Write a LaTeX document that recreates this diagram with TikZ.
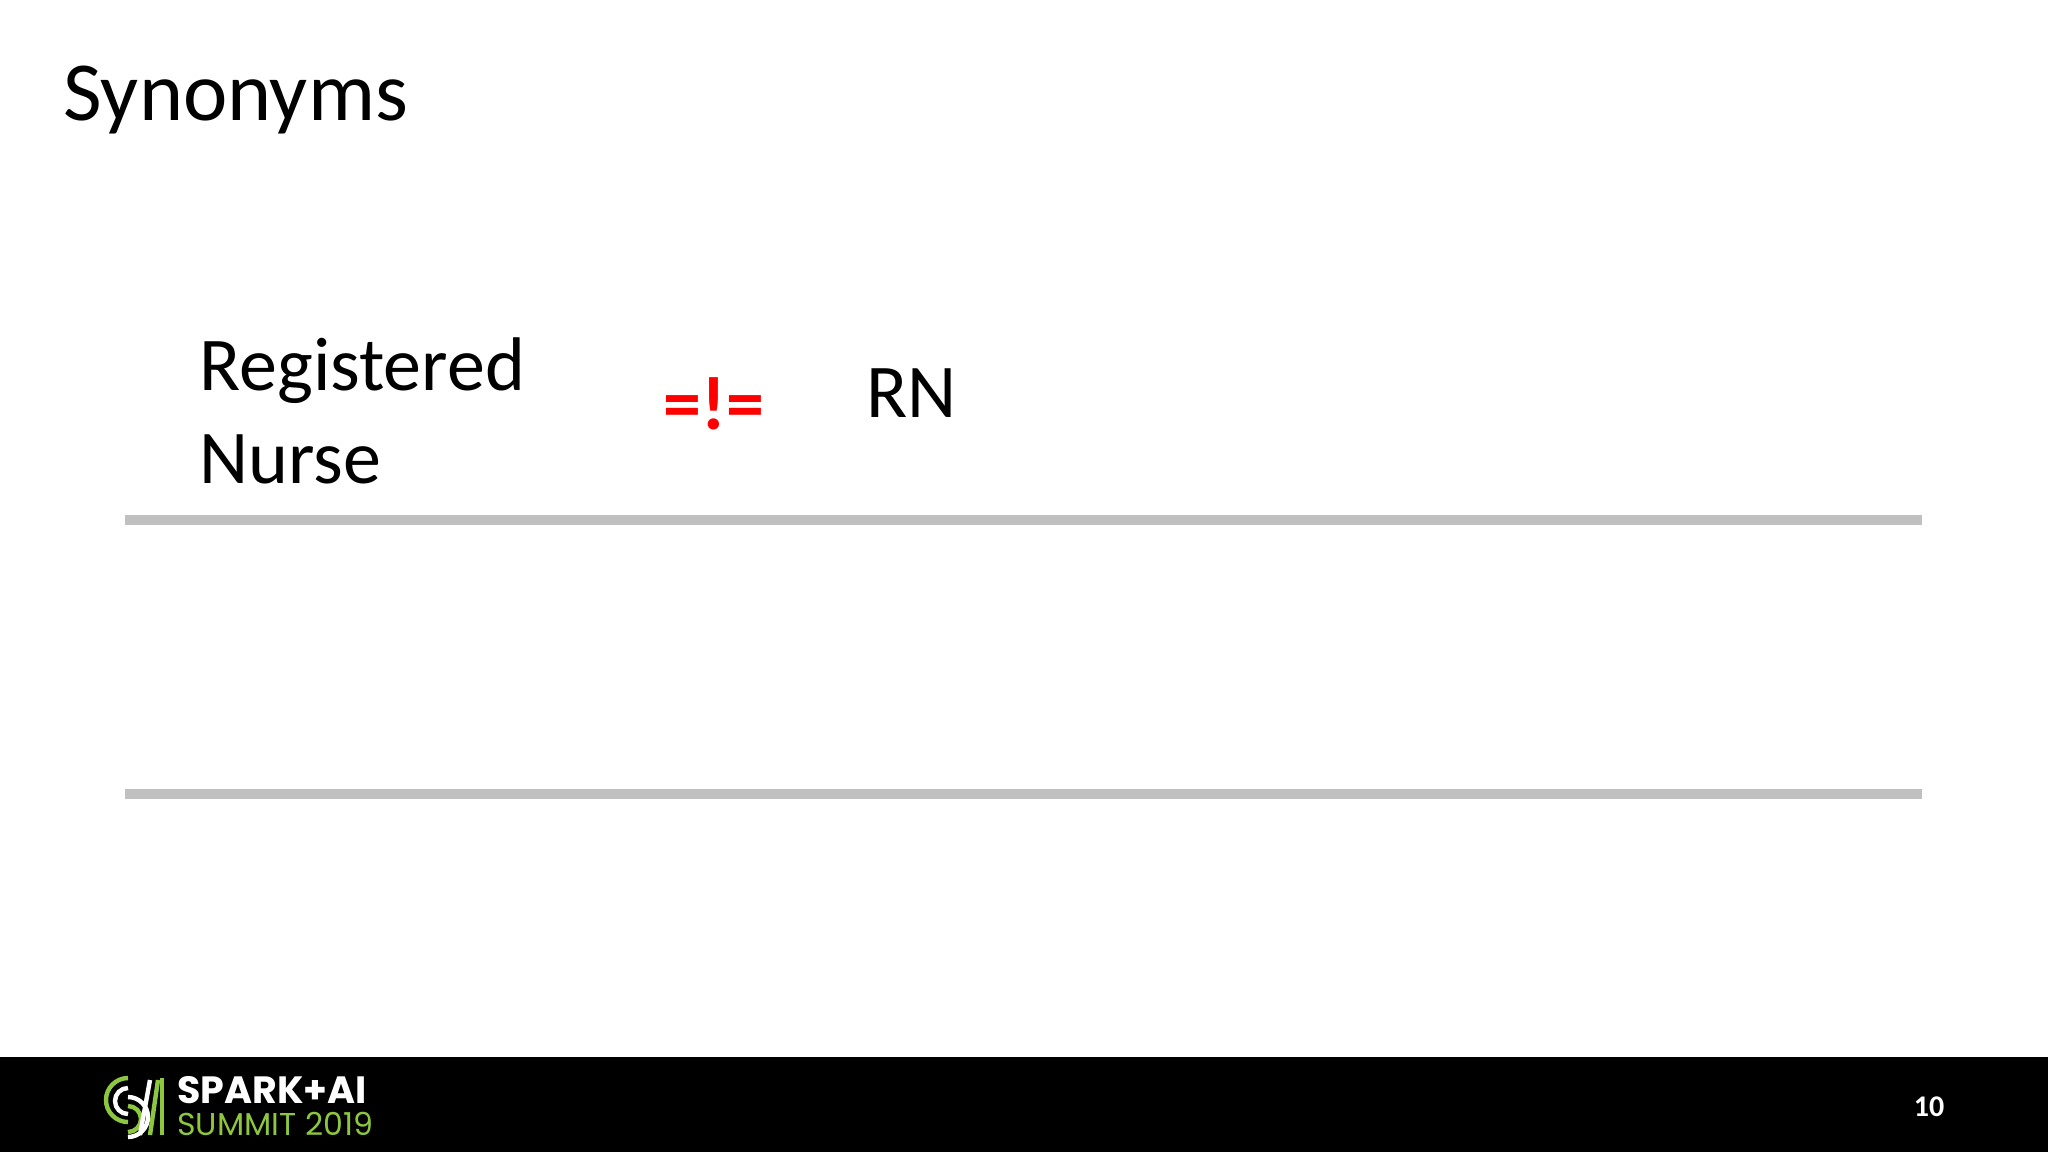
\documentclass[tikz,border=0pt]{standalone}
\usepackage{fontspec}
\setmainfont{Carlito}
\newfontfamily\logofont{Poppins}
\definecolor{sgreen}{HTML}{8DC63F}
\definecolor{rulegray}{HTML}{C0C0C0}
\begin{document}
\begin{tikzpicture}[x=0.5pt,y=-0.5pt,
  txt/.style={anchor=base west,inner sep=0pt,font=\fontsize{38}{46}\selectfont},
  rulel/.style={draw=rulegray,line width=5pt}]
\useasboundingbox (0,0) rectangle (2048,1152);
\fill[white] (0,0) rectangle (2048,1057);
\fill[black] (0,1057) rectangle (2048,1152);
\node[txt,font=\fontsize{42}{50}\selectfont] (title) at (63,120) {Synonyms};
\node[txt] (reg) at (199,390) {Registered};
\node[txt] (nur) at (199,483) {Nurse};
\node[txt,text=red,font=\fontsize{38}{46}\selectfont\bfseries] (neq) at (663,429) {=!=};
\node[txt] (rn) at (866,417) {RN};
\coordinate (l1a) at (125,520); \coordinate (l1b) at (1922,520);
\coordinate (l2a) at (125,794); \coordinate (l2b) at (1922,794);
\draw[rulel] (l1a) -- (l1b);
\draw[rulel] (l2a) -- (l2b);
% logo mark
\begin{scope}[line width=2.2pt]
\draw[sgreen] (128,1078) arc[start angle=90,end angle=270,x radius=22,y radius=-22];
\draw[white] (128,1088) arc[start angle=90,end angle=270,x radius=13,y radius=-13];
\draw[sgreen] (128,1106) arc[start angle=90,end angle=-90,x radius=13,y radius=-13];
\draw[white] (128,1097) arc[start angle=90,end angle=-90,x radius=20,y radius=-20];
\draw[white] (140,1135) -- (150,1080);
\draw[sgreen] (150,1135) -- (158,1080);
\draw[sgreen] (162,1135) -- (162,1078);
\end{scope}
\node[anchor=base west,inner sep=0pt,text=white,font=\logofont\bfseries\fontsize{19}{21}\selectfont] (spark) at (177,1103) {SPARK+AI};
\node[anchor=base west,inner sep=0pt,text=sgreen,font=\logofont\fontsize{15.8}{18}\selectfont] (summit) at (177,1135) {SUMMIT 2019};
\node[anchor=base,inner sep=0pt,text=white,font=\bfseries\fontsize{15}{17}\selectfont] (pg) at (1929,1116) {10};
\end{tikzpicture}
\end{document}
